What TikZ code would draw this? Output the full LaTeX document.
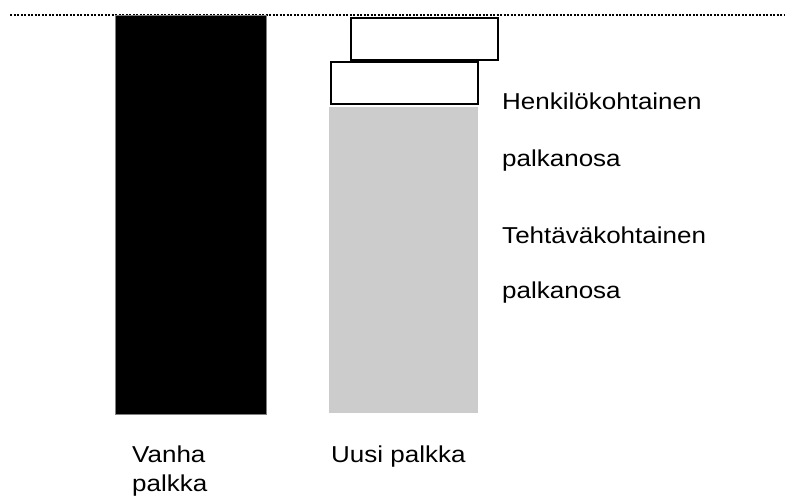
\documentclass[tikz,border=0pt]{standalone}
\usepackage{fontspec}
\setmainfont{Liberation Sans}
\begin{document}
\begin{tikzpicture}[x=1pt,y=-1pt,
  lbl/.style={anchor=base west,inner sep=0pt,font=\fontsize{23}{26}\selectfont,xscale=1.13},
  box/.style={draw=black,line width=2pt,fill=white},
  dotline/.style={line width=2pt,dash pattern=on 2pt off 1.5pt}]
\useasboundingbox (0,0) rectangle (785,503);
\coordinate (l0) at (10,15);
\coordinate (l1) at (785,15);
\draw[dotline] (l0) -- (l1);
\node[fill=black,draw=gray,line width=0.6pt,minimum width=151pt,minimum height=399pt,inner sep=0pt,anchor=north west] (old) at (115,15) {};
\node[fill=black!20,minimum width=149pt,minimum height=306pt,inner sep=0pt,anchor=north west] (task) at (329,107) {};
\node[box,minimum width=147pt,minimum height=42pt,inner sep=0pt,anchor=north west] (p2) at (350,17) {};
\node[box,minimum width=147pt,minimum height=42pt,inner sep=0pt,anchor=north west] (p1) at (330,61) {};
\node[lbl] (t1) at (502,110) {Henkilökohtainen};
\node[lbl] (t2) at (502,166) {palkanosa};
\node[lbl] (t3) at (502,243) {Tehtäväkohtainen};
\node[lbl] (t4) at (502,298) {palkanosa};
\node[lbl] (v1) at (132,462) {Vanha};
\node[lbl] (v2) at (132,491) {palkka};
\node[lbl] (u1) at (331,462) {Uusi palkka};
\end{tikzpicture}
\end{document}
